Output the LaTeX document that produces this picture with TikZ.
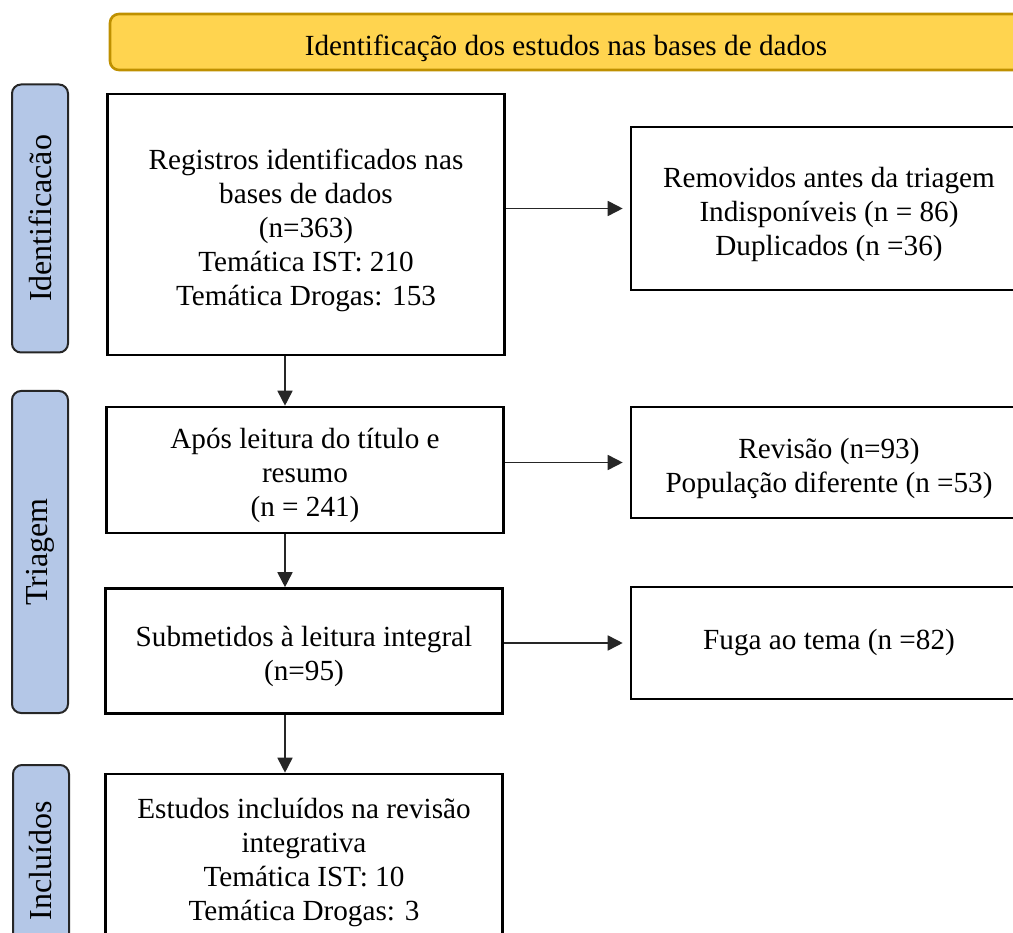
\documentclass[tikz,border=0pt]{standalone}
\usepackage{fontspec}
\setmainfont{Liberation Serif}
\usetikzlibrary{arrows.meta}
\definecolor{bannerfill}{HTML}{FFD44F}
\definecolor{bannerline}{HTML}{BF9000}
\definecolor{stagefill}{HTML}{B4C7E7}
\newcommand{\liftrow}{\rule{0pt}{32pt}}

\begin{document}
\begin{tikzpicture}[
  x=1pt, y=-1pt,
  >={Triangle[length=15pt,width=15pt]},
  every node/.style={font=\fontsize{29.2}{34}\selectfont},
  box/.style={draw=black, line width=2.6pt, fill=white, align=center,
    inner sep=0pt, minimum width=397pt},
  outbox/.style={box, minimum width=396pt},
  stage/.style={draw=black!85, line width=2pt, fill=stagefill,
    rounded corners=9pt, rotate=90, minimum height=56pt, inner sep=0pt,
    font=\fontsize{32}{36}\selectfont},
  banner/.style={draw=bannerline, line width=2.6pt, fill=bannerfill,
    rounded corners=9pt, minimum width=912pt, minimum height=56pt,
    inner sep=0pt, text height=30pt, text depth=2pt},
  link/.style={->, line width=1.7pt, black!85},
]
  \useasboundingbox (0,0) rectangle (1013,933);
  \clip (0,0) rectangle (1013,933);

  % columns
  \def\colS{40}   % stage labels
  \def\colL{306}  % main flow
  \def\colR{829}  % excluded records

  % top banner
  \node[banner] (head) at (566,42) {Identificação dos estudos nas bases de dados};

  % stage labels
  \node[stage, minimum width=268pt] (sIdent) at (\colS,218.5) {Identificacão};
  \node[stage, minimum width=322pt] (sTriag) at (\colS,552) {Triagem};
  \node[stage, minimum width=192pt] (sIncl) at (\colS+1,861) {Incluídos};

  % main flow
  \node[box, minimum height=261pt] (reg) at (\colL,224.5)
    {\liftrow Registros identificados nas\\bases de dados\\(n=363)\\Temática IST: 210\\Temática Drogas: 153};
  \node[box, minimum height=126pt] (tit) at (\colL-1,470)
    {\liftrow Após leitura do título e\\resumo\\(n = 241)};
  \node[box, minimum height=125pt] (full) at (\colL-2,651)
    {\liftrow Submetidos à leitura integral\\(n=95)};
  \node[box, minimum height=166pt] (incl) at (\colL-2,857)
    {\liftrow Estudos incluídos na revisão\\integrativa\\Temática IST: 10\\Temática Drogas: 3};

  % excluded records
  \node[outbox, minimum height=163pt] (rem) at (\colR,208.5)
    {\liftrow Removidos antes da triagem\\Indisponíveis (n = 86)\\Duplicados (n =36)};
  \node[outbox, minimum height=111pt] (rev) at (\colR,462.5)
    {\liftrow Revisão (n=93)\\População diferente (n =53)};
  \node[outbox, minimum height=112pt] (fuga) at (\colR,643)
    {Fuga ao tema (n =82)};

  % arrows
  \coordinate (spine) at (285,0);
  \draw[link] (reg.south -| spine) -- (tit.north -| spine);
  \draw[link] (tit.south -| spine) -- (full.north -| spine);
  \draw[link] (full.south -| spine) -- (incl.north -| spine);

  \draw[link, shorten >=7pt] (reg.east |- rem.west) -- (rem.west);
  \draw[link, shorten >=7pt] (tit.east |- rev.west) -- (rev.west);
  \draw[link, shorten >=7pt] (full.east |- fuga.west) -- (fuga.west);
\end{tikzpicture}
\end{document}
